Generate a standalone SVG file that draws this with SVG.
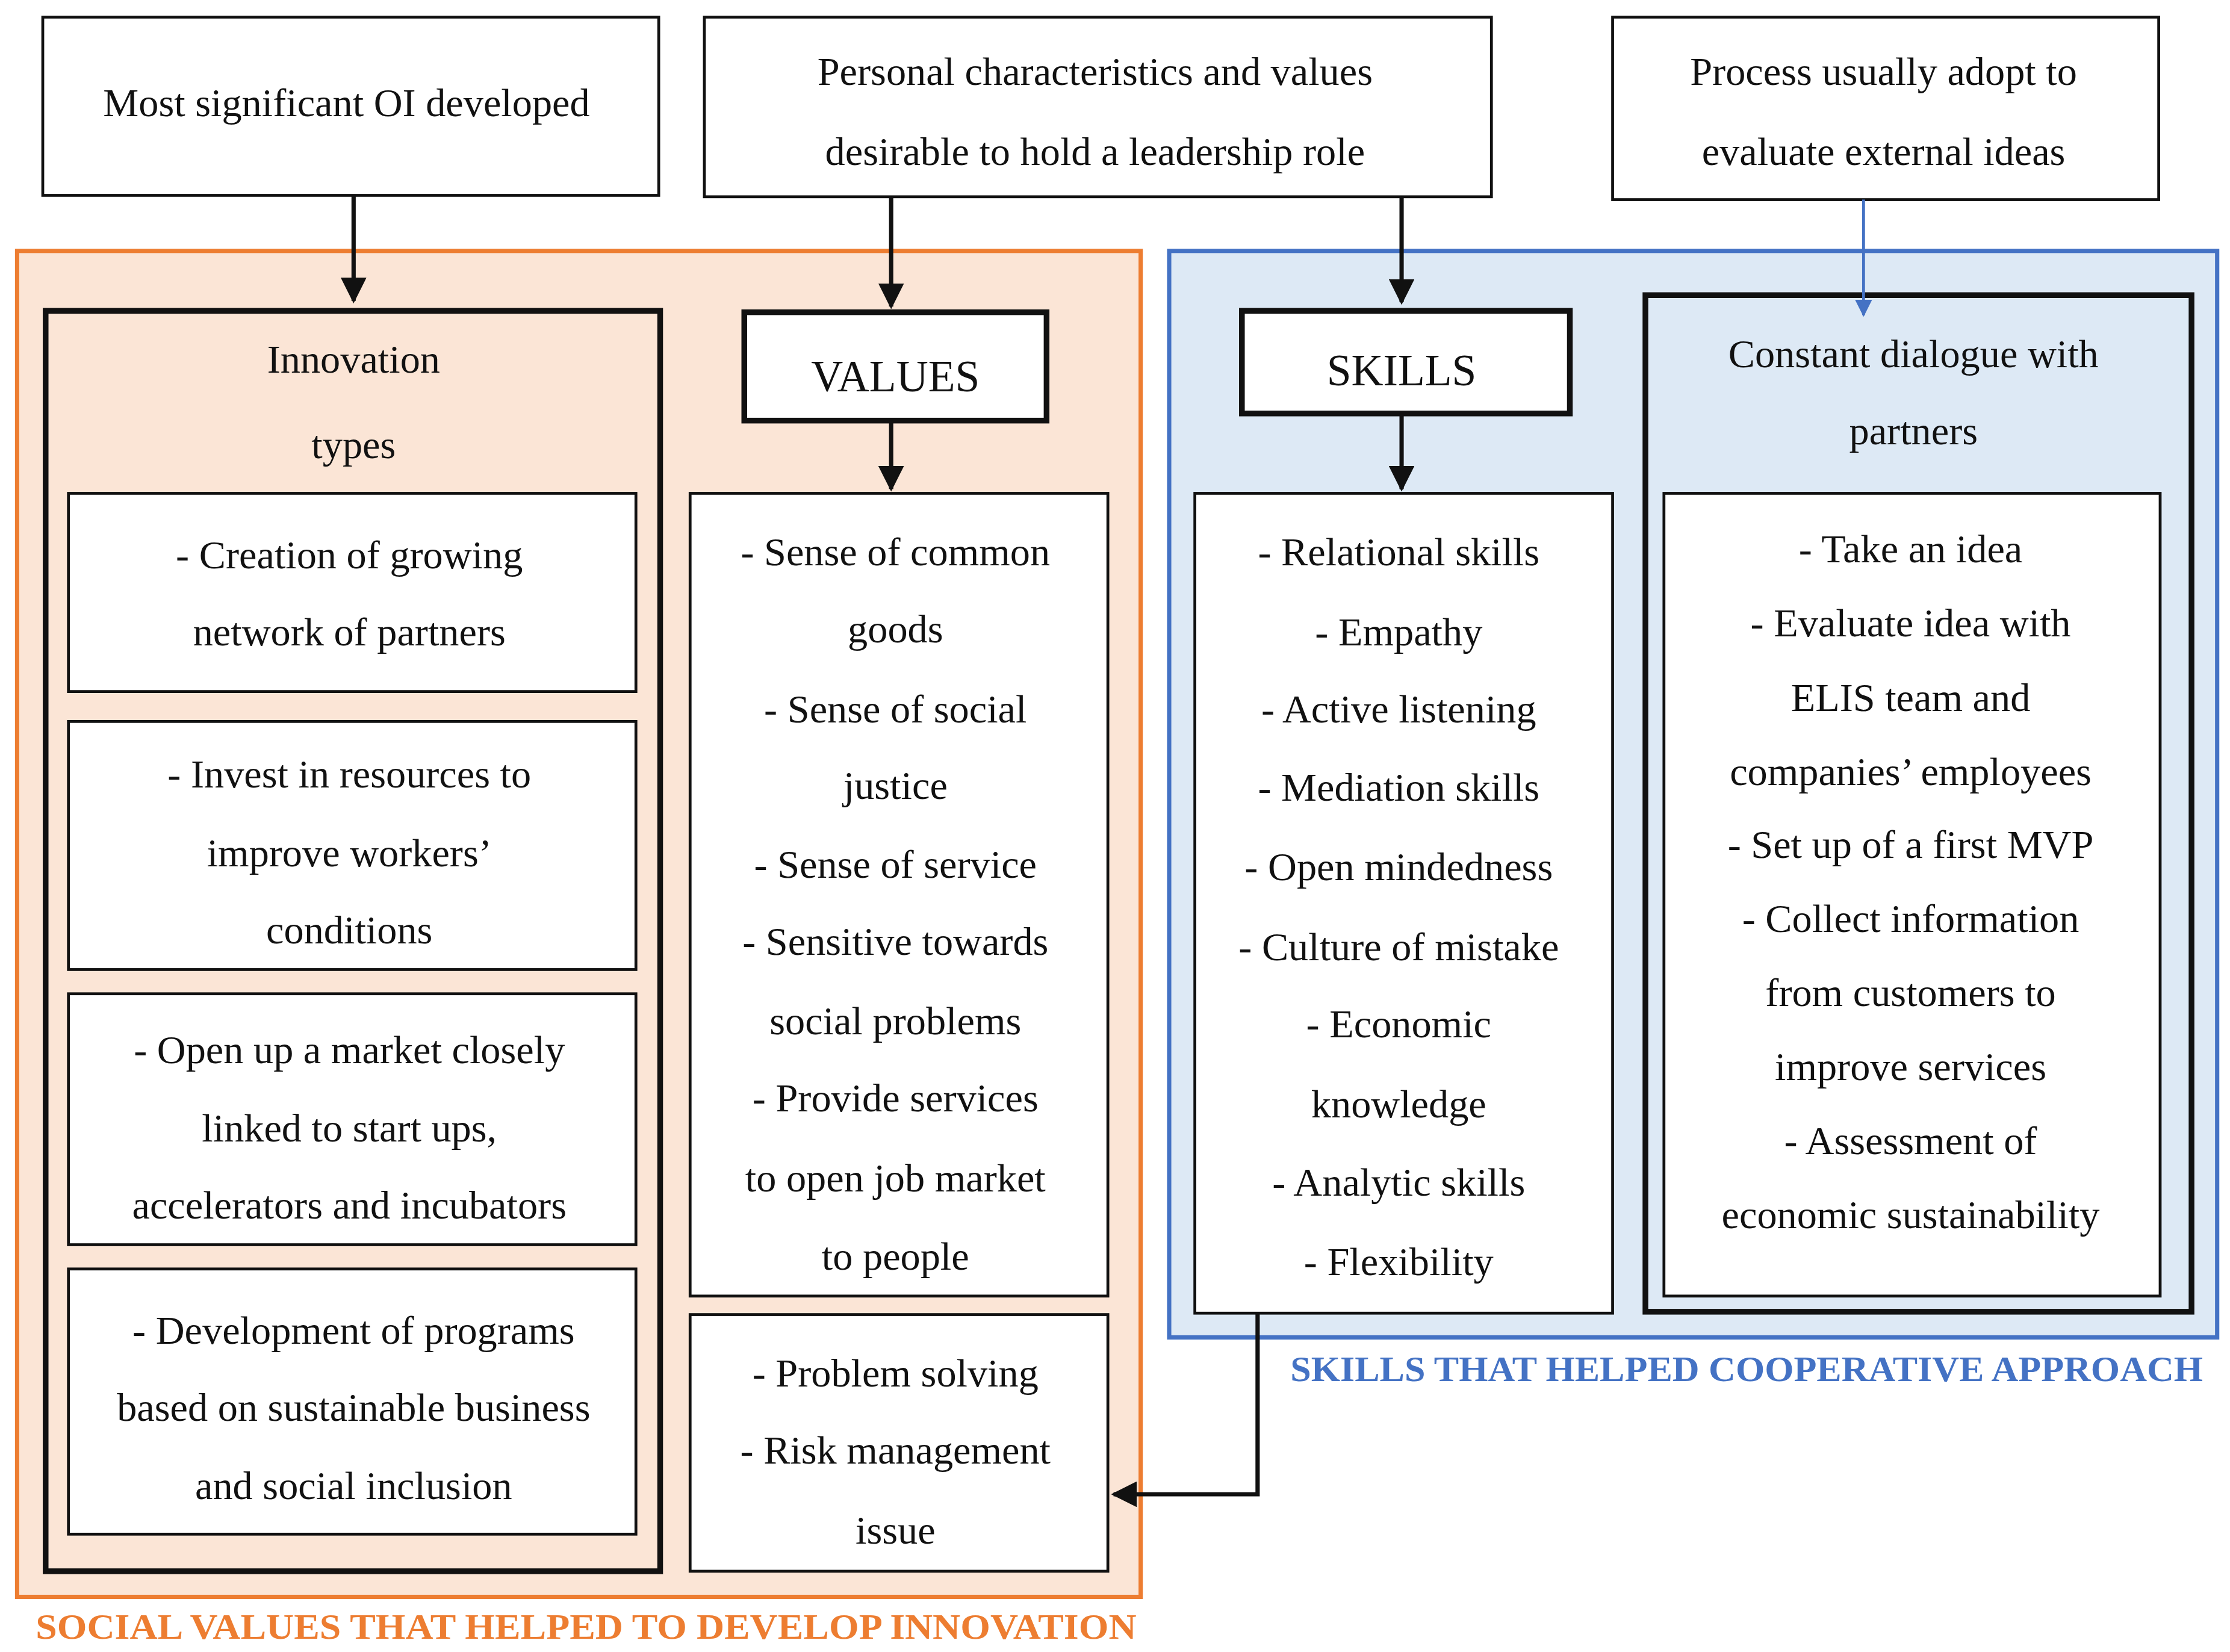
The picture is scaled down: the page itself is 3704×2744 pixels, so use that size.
<svg xmlns="http://www.w3.org/2000/svg" width="3704" height="2744" viewBox="0 0 3704 2744">
<defs>
<style>
text{font-family:"Liberation Serif","DejaVu Serif",serif;font-size:28px;fill:#111;text-anchor:middle;dominant-baseline:central}
.b{fill:#fff;stroke:#111;stroke-width:2}
.t{fill:none;stroke:#111;stroke-width:4}
.k{fill:#fff;stroke:#111;stroke-width:4}
.c{stroke:#111;stroke-width:3;fill:none}
.lab{font-weight:bold;font-size:25px;text-anchor:start}
</style>
<marker id="a" viewBox="0 0 10 10" refX="9" refY="5" markerWidth="6" markerHeight="6" orient="auto"><path d="M0,0L10,5L0,10z" fill="#111"/></marker>
<marker id="ab" viewBox="0 0 10 10" refX="9" refY="5" markerWidth="6" markerHeight="6" orient="auto"><path d="M0,0L10,5L0,10z" fill="#4472c4"/></marker>
</defs>
<rect width="3704" height="2744" fill="#fff"/>
<g transform="scale(2.3683)">
<rect x="12" y="176" width="788" height="944" fill="#fbe5d6" stroke="#ed7d31" stroke-width="3"/>
<rect x="820" y="176" width="735" height="762" fill="#dde9f5" stroke="#4472c4" stroke-width="3"/>
<text class="lab" x="25" y="1141" textLength="772" lengthAdjust="spacingAndGlyphs" style="fill:#ed7d31">SOCIAL VALUES THAT HELPED TO DEVELOP INNOVATION</text>
<text class="lab" x="905" y="960" textLength="640" lengthAdjust="spacingAndGlyphs" style="fill:#4472c4">SKILLS THAT HELPED COOPERATIVE APPROACH</text>
<g id="top1"><rect class="b" x="30" y="12" width="432" height="125"/><text x="243" y="72">Most significant OI developed</text></g>
<g id="top2"><rect class="b" x="494" y="12" width="552" height="126"/><text x="768" y="50">Personal characteristics and values</text><text x="768" y="106">desirable to hold a leadership role</text></g>
<g id="top3"><rect class="b" x="1131" y="12" width="383" height="128"/><text x="1321" y="50">Process usually  adopt to</text><text x="1321" y="106">evaluate external ideas</text></g>
<g id="innov"><rect class="t" x="32" y="218" width="431" height="884"/><text x="248" y="252">Innovation</text><text x="248" y="312">types</text></g>
<g id="i1"><rect class="b" x="48" y="346" width="398" height="139"/><text x="245" y="389">- Creation of growing</text><text x="245" y="443">network of partners</text></g>
<g id="i2"><rect class="b" x="48" y="506" width="398" height="174"/><text x="245" y="543">- Invest in resources to</text><text x="245" y="598">improve workers’</text><text x="245" y="652">conditions</text></g>
<g id="i3"><rect class="b" x="48" y="697" width="398" height="176"/><text x="245" y="736">- Open up a market closely</text><text x="245" y="791">linked to start ups,</text><text x="245" y="845">accelerators and incubators</text></g>
<g id="i4"><rect class="b" x="48" y="890" width="398" height="186"/><text x="248" y="933">- Development of programs</text><text x="248" y="987">based on sustainable business</text><text x="248" y="1042">and social inclusion</text></g>
<g id="values"><rect class="k" x="522" y="219" width="212" height="76"/><text x="628" y="264" style="font-size:31px">VALUES</text></g>
<g id="vlist"><rect class="b" x="484" y="346" width="293" height="563"/>
<text x="628" y="387">- Sense of common</text><text x="628" y="441">goods</text><text x="628" y="497">- Sense of social</text><text x="628" y="551">justice</text><text x="628" y="606">- Sense of service</text><text x="628" y="660">- Sensitive towards</text><text x="628" y="716">social problems</text><text x="628" y="770">- Provide services</text><text x="628" y="826">to open job market</text><text x="628" y="881">to people</text></g>
<g id="prob"><rect class="b" x="484" y="922" width="293" height="180"/><text x="628" y="963">- Problem solving</text><text x="628" y="1017">- Risk management</text><text x="628" y="1073">issue</text></g>
<g id="skills"><rect class="k" x="871" y="218" width="230" height="72"/><text x="983" y="260" style="font-size:31px">SKILLS</text></g>
<g id="slist"><rect class="b" x="838" y="346" width="293" height="575"/>
<text x="981" y="387">- Relational skills</text><text x="981" y="443">- Empathy</text><text x="981" y="497">- Active listening</text><text x="981" y="552">- Mediation skills</text><text x="981" y="608">- Open mindedness</text><text x="981" y="664">- Culture of mistake</text><text x="981" y="718">- Economic</text><text x="981" y="774">knowledge</text><text x="981" y="829">- Analytic skills</text><text x="981" y="885">- Flexibility</text></g>
<g id="dialog"><rect class="t" x="1154" y="207" width="383" height="713"/><text x="1342" y="248">Constant dialogue with</text><text x="1342" y="302">partners</text></g>
<g id="dlist"><rect class="b" x="1167" y="346" width="348" height="563"/>
<text x="1340" y="385">- Take an idea</text><text x="1340" y="437">- Evaluate idea with</text><text x="1340" y="489">ELIS team and</text><text x="1340" y="541">companies’ employees</text><text x="1340" y="592">- Set up of a first MVP</text><text x="1340" y="644">- Collect information</text><text x="1340" y="696">from customers to</text><text x="1340" y="748">improve services</text><text x="1340" y="800">- Assessment of</text><text x="1340" y="852">economic sustainability</text></g>
<g id="connectors">
<path class="c" d="M248,137V211" marker-end="url(#a)"/>
<path class="c" d="M625,138V215" marker-end="url(#a)"/>
<path class="c" d="M983,138V212" marker-end="url(#a)"/>
<path d="M1307,140V221" stroke="#4472c4" stroke-width="2" fill="none" marker-end="url(#ab)"/>
<path class="c" d="M625,295V343" marker-end="url(#a)"/>
<path class="c" d="M983,290V343" marker-end="url(#a)"/>
<path class="c" d="M882,921V1048H781" marker-end="url(#a)"/>
</g>
</g>
</svg>
